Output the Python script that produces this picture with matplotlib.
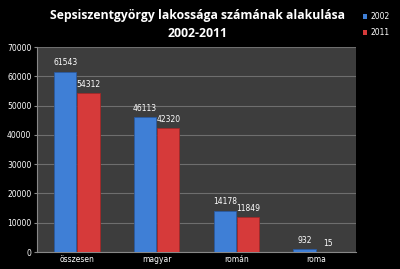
import matplotlib
matplotlib.use("Agg")
import matplotlib.pyplot as plt
import numpy as np
from matplotlib.patches import Patch

categories = ["összesen", "magyar", "román", "roma"]
years = ["2002", "2011"]
values_2002 = [61543, 46113, 14178, 932]
values_2011 = [54312, 42320, 11849, 15]
yticks = [0, 10000, 20000, 30000, 40000, 50000, 60000, 70000]

fig = plt.figure(figsize=(4.0, 2.69), dpi=100, facecolor="black")
ax = fig.add_axes([0.0925, 0.063, 0.7975, 0.762])
ax.set_facecolor("#3d3d3d")

x = np.arange(len(categories))
w = 0.28
blue = "#3f7fd6"
red = "#d63a3a"
b1 = ax.bar(x - 0.145, values_2002, w, color=blue, edgecolor="#2a5aa0", linewidth=0.6, zorder=3)
b2 = ax.bar(x + 0.145, values_2011, w, color=red, edgecolor="#a02828", linewidth=0.6, zorder=3)

for rects, vals in ((b1, values_2002), (b2, values_2011)):
    for r, v in zip(rects, vals):
        ax.text(r.get_x() + r.get_width() / 2, v + 1500, str(v), ha="center", va="bottom",
                color="white", fontsize=5.5, family="DejaVu Sans")

ax.set_xlim(-0.5, len(categories) - 0.5)
ax.set_ylim(0, 70000)
ax.set_yticks(yticks)
ax.set_yticklabels([str(t) for t in yticks], color="white", fontsize=5.5)
ax.set_xticks(x)
ax.set_xticklabels(categories, color="white", fontsize=5.5)
ax.yaxis.grid(True, color="#6e6e6e", linewidth=0.8, zorder=0)
ax.set_axisbelow(True)
for s in ["top", "right"]:
    ax.spines[s].set_visible(False)
ax.spines["left"].set_color("#888888")
ax.spines["bottom"].set_color("#888888")
ax.tick_params(axis="both", colors="#888888", length=2, labelcolor="white", pad=2)
ax.tick_params(axis="x", length=0)

fig.text(0.495, 0.965, "Sepsiszentgyörgy lakossága számának alakulása\n2002-2011",
         ha="center", va="top", color="white", fontsize=8.8, fontweight="bold",
         family="Open Sans", linespacing=1.45)

handles = [Patch(facecolor=blue), Patch(facecolor=red)]
leg = fig.legend(handles, years, loc="upper left", bbox_to_anchor=(0.89, 0.98),
                 frameon=False, fontsize=5.5, labelcolor="white", handlelength=0.6,
                 handleheight=0.6, handletextpad=0.4, labelspacing=0.9)

fig.savefig("out.png", dpi=100, facecolor="black")
